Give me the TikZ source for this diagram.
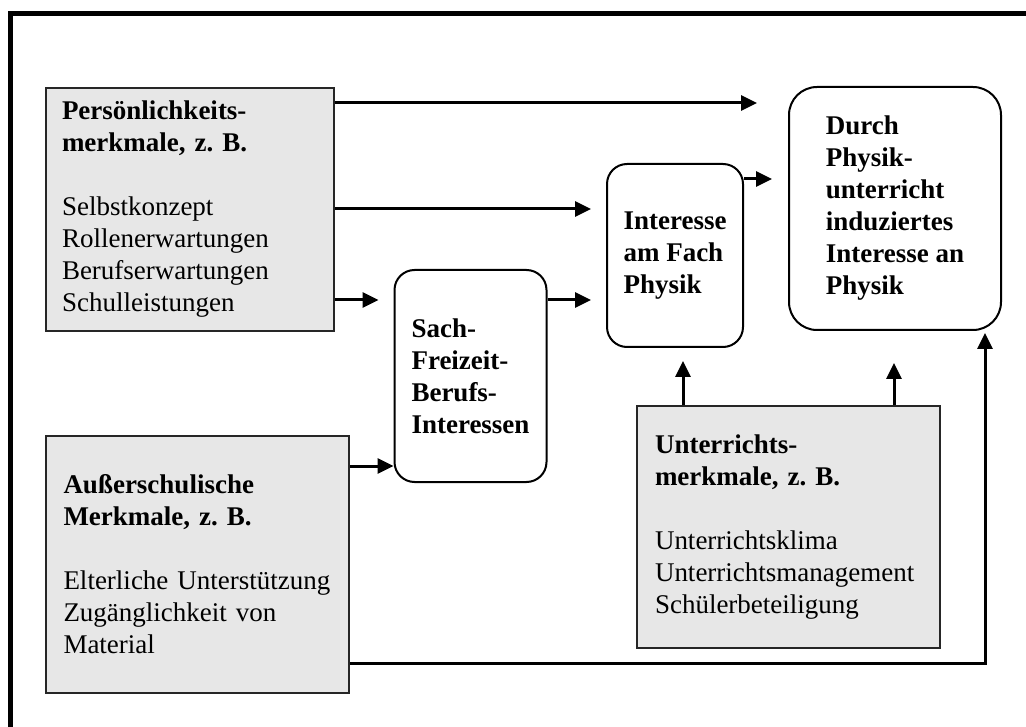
\documentclass[tikz,border=0pt]{standalone}
\usepackage{fontspec}
\setmainfont{Liberation Serif}
\usetikzlibrary{arrows.meta}
\definecolor{granite}{RGB}{231,231,231}

\begin{document}
\begin{tikzpicture}[x=1pt,y=-1pt,
    every node/.style={font=\fontsize{27pt}{32pt}\selectfont\frenchspacing, inner sep=0pt},
    greybox/.style={draw=black!85, line width=2pt, fill=granite, align=left},
    roundbox/.style={draw, line width=2pt, rounded corners=20pt, align=left,
        font=\fontsize{27pt}{32pt}\selectfont\frenchspacing\bfseries},
    arr/.style={line width=3pt, -{Triangle[length=16pt,width=15pt]}}]
    \useasboundingbox (0,0) rectangle (1026,727);

    % Draw the frame (only top and left are visible)
    \draw[line width=5pt] (10.5,727) -- (10.5,13.5) -- (1026,13.5);

    % Draw the grey boxes
    \node[greybox, minimum width=288, minimum height=243, text width=256] (pers) at (190,209.5)
        {\textbf{Persönlichkeits-}\\\textbf{merkmale, z. B.}\\[32pt]Selbstkonzept\\Rollenerwartungen\\Berufserwartungen\\Schulleistungen};
    \node[greybox, minimum width=303, minimum height=257, text width=268] (auss) at (197.5,564.5)
        {\textbf{Außerschulische}\\\textbf{Merkmale, z. B.}\\[32pt]Elterliche Unterstützung\\Zugänglichkeit von\\Material};
    \node[greybox, minimum width=303, minimum height=242, text width=267] (unter) at (788.5,527)
        {\textbf{Unterrichts-}\\\textbf{merkmale, z. B.}\\[32pt]Unterrichtsklima\\Unterrichtsmanagement\\Schülerbeteiligung};

    % Draw the rounded boxes
    \node[roundbox, minimum width=152, minimum height=212] (sach) at (470.5,376)
        {Sach-\\Freizeit-\\Berufs-\\Interessen};
    \node[roundbox, minimum width=136, minimum height=183] (inter) at (675,255.5)
        {Interesse\\am Fach\\Physik};
    \node[roundbox, rounded corners=28pt, minimum width=212, minimum height=243] (durch) at (895,208.5)
        {Durch\\Physik-\\unterricht\\induziertes\\Interesse an\\Physik};

    % Rows and columns of the arrows
    \coordinate (row1) at (0,103);
    \coordinate (row2) at (0,209);
    \coordinate (row3) at (0,300);
    \coordinate (row4) at (0,179);
    \coordinate (row5) at (0,466);
    \coordinate (row6) at (0,663);
    \coordinate (col1) at (683,0);
    \coordinate (col2) at (894,0);
    \coordinate (col3) at (985,0);

    % Draw the arrows
    \draw[arr, shorten >=31pt] (pers.east |- row1) -- (durch.west |- row1);
    \draw[arr, shorten >=15pt] (pers.east |- row2) -- (inter.west |- row2);
    \draw[arr, shorten >=15pt] (pers.east |- row3) -- (sach.west |- row3);
    \draw[arr, shorten >=15pt] (sach.east |- row3) -- (inter.west |- row3);
    \draw[arr, shorten >=16pt] (inter.east |- row4) -- (durch.west |- row4);
    \draw[arr] (auss.east |- row5) -- (sach.west |- row5);
    \draw[arr, shorten >=13pt] (unter.north -| col1) -- (inter.south -| col1);
    \draw[arr, shorten >=32pt] (unter.north -| col2) -- (durch.south -| col2);
    \draw[arr, shorten >=2pt] (auss.east |- row6) -| (durch.south -| col3);
\end{tikzpicture}
\end{document}
